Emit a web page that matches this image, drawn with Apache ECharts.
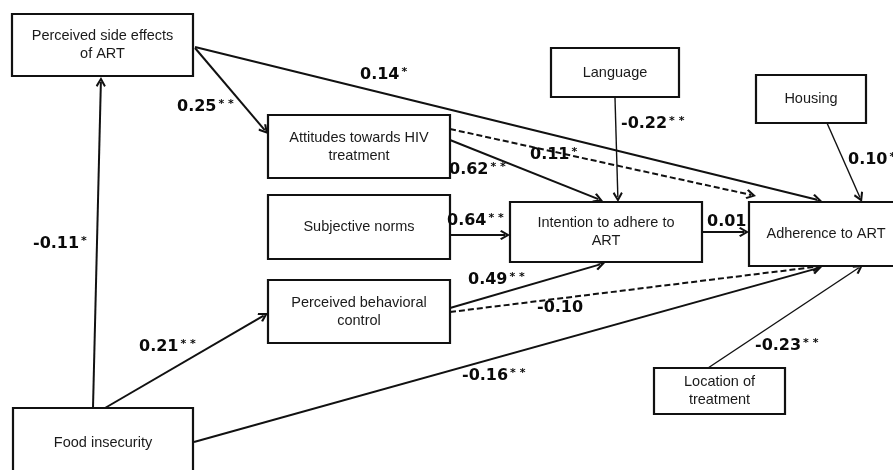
<!DOCTYPE html>
<html>
<head>
<meta charset="utf-8">
<script src="https://cdn.jsdelivr.net/npm/echarts@6/dist/echarts.min.js"></script>
<style>
html,body{margin:0;padding:0;background:#fff;}
#chart{width:893px;height:470px;}
</style>
</head>
<body>
<div id="chart"></div>
<script>
// ---------- data ----------
const boxLabels = [
  'Perceived side effects\nof ART',
  'Attitudes towards HIV\ntreatment',
  'Subjective norms',
  'Perceived behavioral\ncontrol',
  'Intention to adhere to\nART',
  'Adherence to ART',
  'Language',
  'Housing',
  'Location of\ntreatment',
  'Food insecurity'
];
const pathFrom = ['Food insecurity','Food insecurity','Food insecurity','Perceived side effects','Perceived side effects','Attitudes','Attitudes','Language','Subjective norms','Perceived behavioral control','Perceived behavioral control','Intention','Housing','Location of treatment'];
const pathTo   = ['Perceived side effects','Perceived behavioral control','Adherence','Attitudes','Adherence','Adherence','Intention','Intention','Intention','Intention','Adherence','Adherence','Adherence','Adherence'];
const pathCoef = ['-0.11*','0.21**','-0.16**','0.25**','0.14*','0.11*','0.62**','-0.22**','0.64**','0.49**','-0.10','0.01','0.10*','-0.23**'];
const pathDashed = [false,false,false,false,false,true,false,false,false,false,true,false,false,false];

// ---------- layout (diagram coordinates) ----------
const boxRects = [
  [12,14,193,76],[268,115,450,178],[268,195,450,259],[268,280,450,343],
  [510,202,702,262],[749,202,903,266],[551,48,679,97],[756,75,866,123],
  [654,368,785,414],[13,408,193,478]
];
const pathStart = [[93,408],[105,408],[194,442],[195,48],[195,47],[450,129],[450,140],[615,98],[450,235],[450,308],[450,312],[702,232],[827,123],[708,368]];
const pathEnd   = [[101,77],[268,313],[822,267],[268,134],[822,201],[756,196],[603,201],[618,202],[510,235],[605,263],[822,266],[749,232],[862,202],[863,265]];
const pathWidth = [2,2,2,2,2,2,2,1.4,2,2,2,2,1.4,1.4];
const labelPos  = [[33,244],[139,347],[462,376],[177,107],[360,75],[530,155],[449,170],[621,124],[447,221],[468,280],[537,308],[707,222],[848,160],[755,346]];

const ARROW = 10;
const chevron = 'path://M5,0 L10,8.6 L8.4,10 L5,4 L1.6,10 L0,8.6 Z';

function pulled(s, e) {
  const dx = e[0]-s[0], dy = e[1]-s[1];
  const L = Math.sqrt(dx*dx+dy*dy);
  return [e[0]-dx/L*ARROW/2, e[1]-dy/L*ARROW/2];
}

const lineData = pathCoef.map((c,i) => ({
  name: pathFrom[i] + ' -> ' + pathTo[i],
  coords: [pathStart[i], pulled(pathStart[i], pathEnd[i])],
  lineStyle: { type: pathDashed[i] ? [6,3] : 'solid', width: pathWidth[i] }
}));

const labelData = pathCoef.map((c,i) => [labelPos[i][0], labelPos[i][1], c]);

const chart = echarts.init(document.getElementById('chart'), null, {renderer:'canvas'});
chart.setOption({
  backgroundColor: '#fff',
  animation: false,
  grid: {left:0, right:0, top:0, bottom:0},
  xAxis: {type:'value', min:0, max:893, show:false},
  yAxis: {type:'value', min:0, max:470, inverse:true, show:false},
  series: [
    {
      type: 'lines',
      coordinateSystem: 'cartesian2d',
      polyline: false,
      z: 1,
      symbol: ['none', chevron],
      symbolSize: ARROW,
      lineStyle: {color:'#111', width:2, opacity:1},
      data: lineData
    },
    {
      type: 'custom',
      coordinateSystem: 'cartesian2d',
      z: 2,
      clip: false,
      encode: {x:[0,2], y:[1,3]},
      data: boxRects.map((r,i) => [r[0], r[1], r[2], r[3], i]),
      renderItem: function (params, api) {
        const p1 = api.coord([api.value(0), api.value(1)]);
        const p2 = api.coord([api.value(2), api.value(3)]);
        const idx = api.value(4);
        const cx = (p1[0]+p2[0])/2, cy = (p1[1]+p2[1])/2;
        return {
          type: 'group',
          children: [
            {type:'rect', shape:{x:p1[0], y:p1[1], width:p2[0]-p1[0], height:p2[1]-p1[1]},
             style:{fill:'#fff', stroke:'#111', lineWidth:2.2}},
            {type:'text', style:{text: boxLabels[idx], x:cx, y:cy, align:'center', verticalAlign:'middle',
              fontFamily:'Liberation Sans, Arial, sans-serif', fontSize:14.5, lineHeight:18, fill:'#1a1a1a'}}
          ]
        };
      }
    },
    {
      type: 'scatter',
      z: 3,
      symbolSize: 0,
      itemStyle: {color:'#000', opacity:1},
      data: labelData,
      label: {
        show: true,
        position: 'right',
        distance: 0,
        color: '#000',
        opacity: 1,
        formatter: function (p) {
          const t = p.value[2];
          const k = t.indexOf('*');
          if (k < 0) return '{n|' + t + '}';
          return '{n|' + t.slice(0,k) + '}{s|' + t.slice(k).split('').join(' ') + '}';
        },
        rich: {
          n: {fontFamily:'DejaVu Sans', fontWeight:'bold', fontSize:16, color:'#0a0a0a'},
          s: {fontFamily:'DejaVu Sans', fontWeight:'bold', fontSize:11, color:'#0a0a0a', verticalAlign:'top', padding:[0,0,6,2]}
        }
      }
    }
  ]
});
</script>
</body>
</html>
